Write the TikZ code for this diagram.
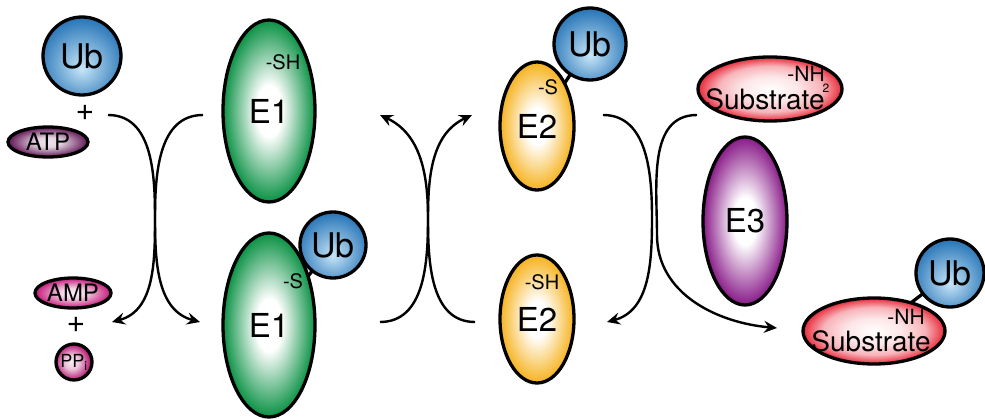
\documentclass[tikz,border=0pt]{standalone}
\usepackage{fontspec}
\setmainfont{TeX Gyre Heros}
\usetikzlibrary{shapes.geometric,arrows.meta}
\definecolor{ubout}{RGB}{32,112,180}
\definecolor{ubin}{RGB}{200,230,248}
\definecolor{eone}{RGB}{10,145,68}
\definecolor{etwo}{RGB}{246,178,30}
\definecolor{ethree}{RGB}{136,26,136}
\definecolor{subcol}{RGB}{232,40,56}
\definecolor{atpcol}{RGB}{96,18,84}
\definecolor{ampcol}{RGB}{196,24,122}
\definecolor{ppcol}{RGB}{180,20,112}
\pgfdeclareradialshading{ubshade}{\pgfpoint{0bp}{-8bp}}{color(0bp)=(ubin); color(30bp)=(ubout); color(60bp)=(ubout)}
\pgfdeclareradialshading{eoneshade}{\pgfpoint{0bp}{0bp}}{color(0bp)=(white); color(7bp)=(white); color(25bp)=(eone); color(50bp)=(eone)}
\pgfdeclareradialshading{etwoshade}{\pgfpoint{0bp}{0bp}}{color(0bp)=(white); color(7bp)=(white); color(25bp)=(etwo); color(50bp)=(etwo)}
\pgfdeclareradialshading{ethreeshade}{\pgfpoint{0bp}{0bp}}{color(0bp)=(white); color(7bp)=(white); color(25bp)=(ethree); color(50bp)=(ethree)}
\pgfdeclareradialshading{subshade}{\pgfpoint{0bp}{0bp}}{color(0bp)=(white); color(10bp)=(white!88!subcol); color(18bp)=(white!65!subcol); color(25bp)=(subcol); color(50bp)=(subcol)}
\pgfdeclareradialshading{atpshade}{\pgfpoint{0bp}{0bp}}{color(0bp)=(white!88!atpcol); color(8bp)=(white!82!atpcol); color(25bp)=(atpcol); color(50bp)=(atpcol)}
\pgfdeclareradialshading{ampshade}{\pgfpoint{0bp}{0bp}}{color(0bp)=(white!92!ampcol); color(8bp)=(white!82!ampcol); color(25bp)=(ampcol); color(50bp)=(ampcol)}
\pgfdeclareradialshading{ppshade}{\pgfpoint{-4bp}{0bp}}{color(0bp)=(white!92!ppcol); color(10bp)=(white!75!ppcol); color(25bp)=(ppcol); color(50bp)=(ppcol)}
\newcommand{\fs}[1]{\fontsize{#1}{#1}\selectfont}
\tikzset{
  blob/.style={ellipse, draw=black, line width=3.3pt, inner sep=0pt, text=black},
  ubnode/.style={circle, draw=black, line width=3.3pt, inner sep=0pt, shading=ubshade, font=\fs{34}},
  enode/.style={blob, font=\fs{33}},
  tag/.style={inner sep=0pt, font=\fs{20}},
  link/.style={line width=3.3pt},
  rx/.style={line width=2.4pt, -{Stealth[length=13pt,width=12pt,inset=4.5pt]}},
  plus/.style={inner sep=0pt, font=\fs{32}}
}
\begin{document}
\begin{tikzpicture}[x=1pt,y=1pt]
\useasboundingbox (0,0) rectangle (985,-419);
% connectors between E and Ub (drawn under the blobs)
\coordinate (e1bc) at (269,-325);
\coordinate (ub2c) at (333,-245);
\coordinate (e2ac) at (537,-126);
\coordinate (ub3c) at (590,-44);
\coordinate (subbc) at (874,-331);
\coordinate (ub4c) at (950,-273);
\draw[link] (e1bc) -- (ub2c);
\draw[link] (e2ac) -- (ub3c);
\draw[link] (subbc) -- (ub4c);
% left column
\node[ubnode, minimum size=78pt] (ub1) at (82,-56) {Ub};
\node[plus] (p1) at (85,-113) {+};
\node[blob, shading=atpshade, minimum width=80pt, minimum height=30pt, font=\fs{24}] (atp) at (48,-142) {ATP};
\node[blob, shading=ampshade, minimum width=76pt, minimum height=30pt, font=\fs{24}] (amp) at (73,-293) {AMP};
\node[plus] (p2) at (76,-325) {+};
\node[blob, circle, shading=ppshade, minimum size=36pt, font=\fs{18}] (ppi) at (74,-362) {PP\textsubscript{i}};
% E1
\node[enode, shading=eoneshade, minimum width=92pt, minimum height=182pt] (e1a) at (269,-111) {E1};
\node[tag] (sh1) at (283,-62) {-SH};
\node[enode, shading=eoneshade, minimum width=92pt, minimum height=184pt] (e1b) at (e1bc) {E1};
\node[tag] (s1) at (293,-281) {-S};
\node[ubnode, minimum size=66pt] (ub2) at (ub2c) {Ub};
% E2
\node[enode, shading=etwoshade, minimum width=74pt, minimum height=128pt] (e2a) at (e2ac) {E2};
\node[tag] (s2) at (548,-87) {-S};
\node[ubnode, minimum size=72pt] (ub3) at (ub3c) {Ub};
\node[enode, shading=etwoshade, minimum width=74pt, minimum height=128pt] (e2b) at (537,-319) {E2};
\node[tag] (sh2) at (542,-282) {-SH};
% E3 and substrates
\node[blob, shading=subshade, minimum width=144pt, minimum height=64pt] (suba) at (770,-89) {};
\node[inner sep=0pt, font=\fs{28}] (subatext) at (765,-99) {Substrate};
\node[tag, font=\fs{21}] (nh2) at (806,-74) {-NH};
\node[inner sep=0pt, font=\fs{12}] (two) at (826,-88) {2};
\node[enode, shading=ethreeshade, minimum width=84pt, minimum height=168pt] (e3) at (745,-221) {E3};
\node[blob, shading=subshade, minimum width=142pt, minimum height=66pt] (subb) at (subbc) {};
\node[inner sep=0pt, font=\fs{28}] (subbtext) at (871,-341) {Substrate};
\node[tag, font=\fs{21}] (nh) at (906,-317) {-NH};
\node[ubnode, minimum size=68pt] (ub4) at (ub4c) {Ub};
% reaction arrows
\coordinate (a1) at (108,-115); \coordinate (ax) at (155,-218); \coordinate (a2) at (200,-322);
\coordinate (b1) at (203,-115); \coordinate (b2) at (112,-322);
\coordinate (c1) at (380,-322); \coordinate (cx) at (428,-218); \coordinate (c2) at (472,-115);
\coordinate (d1) at (475,-322); \coordinate (d2) at (380,-115);
\coordinate (e1) at (603,-115); \coordinate (ex) at (652,-218); \coordinate (e2) at (607,-322);
\coordinate (f1) at (697,-115); \coordinate (fx) at (657,-235); \coordinate (f2) at (777,-328);
\draw[rx] (a1) to[out=0,in=90] (ax) to[out=-90,in=165] (a2);
\draw[rx] (b1) to[out=180,in=90] (ax) to[out=-90,in=15] (b2);
\draw[rx] (c1) to[out=0,in=-90] (cx) to[out=90,in=205] (c2);
\draw[rx] (d1) to[out=180,in=-90] (cx) to[out=90,in=-25] (d2);
\draw[rx] (e1) to[out=0,in=90] (ex) to[out=-90,in=15] (e2);
\draw[rx] (f1) to[out=180,in=90] (fx) to[out=-90,in=175] (f2);
\end{tikzpicture}
\end{document}
